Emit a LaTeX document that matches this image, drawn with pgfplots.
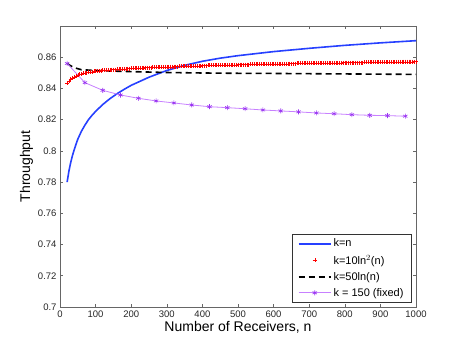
\documentclass[border=0pt]{standalone}
\usepackage{pgfplots}
\pgfplotsset{compat=1.18}
\usepackage{fontspec}
\setmainfont{Liberation Sans}
\definecolor{mblue}{rgb}{0.15,0.25,1}
\definecolor{plight}{rgb}{0.78,0.5,1}
\definecolor{pdark}{rgb}{0.6,0.2,0.95}
\definecolor{axgray}{rgb}{0.4,0.4,0.4}
\begin{document}
\begin{tikzpicture}[x=1pt,y=1pt]
\useasboundingbox (0,0) rectangle (460,346);
\begin{axis}[
  at={(60pt,39pt)}, anchor=south west,
  scale only axis, width=356pt, height=281pt,
  xmin=0, xmax=1000, ymin=0.7, ymax=0.88,
  xtick={0,100,...,1000},
  ytick={0.7,0.72,0.74,0.76,0.78,0.8,0.82,0.84,0.86},
  yticklabels={0.7,0.72,0.74,0.76,0.78,0.8,0.82,0.84,0.86},
  xticklabels={0,100,200,300,400,500,600,700,800,900,1000},
  tick align=inside,
  major tick length=3pt,
  tick style={axgray, line width=0.6pt},
  axis line style={axgray, line width=0.8pt},
  ticklabel style={font=\fontsize{9.5}{11}\selectfont, text=black!85},
  /pgf/number format/assume math mode=true,
  xlabel={Number of Receivers, n},
  ylabel={Throughput},
  label style={font=\fontsize{14}{16}\selectfont},
  xlabel style={yshift=3pt},
  ylabel style={yshift=-2pt},
  legend style={font=\fontsize{11}{13}\selectfont, draw=black!80, inner xsep=6pt, inner ysep=2.5pt, row sep=2.5pt, at={(0.988,0.017)}, anchor=south east},
  legend cell align=left,
  legend image code/.code={\draw[mark repeat=2,mark phase=2,#1] plot coordinates {(0pt,0pt) (16pt,0pt) (32pt,0pt)};},
]
\addlegendimage{draw=mblue, line width=1.6pt}
\addlegendentry{k=n}
\addplot[draw=mblue, line width=1.6pt, line join=round, forget plot] coordinates {
(20,0.780) (25,0.787) (30,0.7925) (35,0.797) (40,0.8008) (45,0.8043) (50,0.8075) (60,0.8125) (70,0.8165) (80,0.820) (90,0.8228) (100,0.8253) (120,0.8297) (140,0.8334) (160,0.8366) (180,0.8394) (200,0.842) (250,0.8472) (300,0.8515) (350,0.8548) (400,0.8574) (450,0.8594) (500,0.861) (600,0.8636) (700,0.8657) (800,0.8676) (900,0.8692) (1000,0.8706)
};
\addplot[red, only marks, mark=+, mark size=2pt, mark options={line width=0.45pt}] coordinates {
(20,.8433) (25,.8446) (30,.8458) (35,.8467) (40,.8474) (45,.8481) (50,.8486) (55,.8490) (60,.8494) (65,.8497) (70,.8500) (75,.8502) (80,.8504) (85,.8506) (90,.8507) (95,.8509) (100,.8510)
(105,.8512) (110,.8513) (115,.8514) (120,.8515) (125,.8516) (130,.8517) (135,.8518) (140,.8519) (145,.8520) (150,.8521) (155,.8521) (160,.8522) (165,.8523) (170,.8524) (175,.8524) (180,.8525) (185,.8526) (190,.8527) (195,.8527) (200,.8528)
(205,.8528) (210,.8529) (215,.8530) (220,.8530) (225,.8531) (230,.8531) (235,.8532) (240,.8533) (245,.8533) (250,.8534) (255,.8534) (260,.8535) (265,.8535) (270,.8535) (275,.8536) (280,.8536) (285,.8537) (290,.8537) (295,.8538) (300,.8538)
(305,.8538) (310,.8539) (315,.8539) (320,.8540) (325,.8540) (330,.8540) (335,.8541) (340,.8541) (345,.8542) (350,.8542) (355,.8542) (360,.8543) (365,.8543) (370,.8543) (375,.8544) (380,.8544) (385,.8545) (390,.8545) (395,.8545) (400,.8546)
(405,.8546) (410,.8546) (415,.8547) (420,.8547) (425,.8547) (430,.8547) (435,.8548) (440,.8548) (445,.8548) (450,.8549) (455,.8549) (460,.8549) (465,.8550) (470,.8550) (475,.8550) (480,.8550) (485,.8551) (490,.8551) (495,.8551) (500,.8552)
(505,.8552) (510,.8552) (515,.8553) (520,.8553) (525,.8553) (530,.8553) (535,.8554) (540,.8554) (545,.8554) (550,.8554) (555,.8555) (560,.8555) (565,.8555) (570,.8555) (575,.8556) (580,.8556) (585,.8556) (590,.8556) (595,.8557) (600,.8557)
(605,.8557) (610,.8557) (615,.8558) (620,.8558) (625,.8558) (630,.8558) (635,.8558) (640,.8558) (645,.8559) (650,.8559) (655,.8559) (660,.8559) (665,.8560) (670,.8560) (675,.8560) (680,.8560) (685,.8560) (690,.8560) (695,.8561) (700,.8561)
(705,.8561) (710,.8561) (715,.8562) (720,.8562) (725,.8562) (730,.8562) (735,.8562) (740,.8562) (745,.8563) (750,.8563) (755,.8563) (760,.8563) (765,.8564) (770,.8564) (775,.8564) (780,.8564) (785,.8564) (790,.8564) (795,.8565) (800,.8565)
(805,.8565) (810,.8565) (815,.8565) (820,.8565) (825,.8566) (830,.8566) (835,.8566) (840,.8566) (845,.8566) (850,.8566) (855,.8567) (860,.8567) (865,.8567) (870,.8567) (875,.8567) (880,.8567) (885,.8568) (890,.8568) (895,.8568) (900,.8568)
(905,.8568) (910,.8568) (915,.8569) (920,.8569) (925,.8569) (930,.8569) (935,.8569) (940,.8569) (945,.8570) (950,.8570) (955,.8570) (960,.8570) (965,.8571) (970,.8571) (975,.8571) (980,.8571) (985,.8571) (990,.8571) (995,.8572) (1000,.8572)
};
\addlegendentry{k=10ln$^2$(n)}
\addplot[black, line width=1.6pt, dash pattern=on 6pt off 4pt] coordinates {
(20,0.856) (30,0.8545) (40,0.8533) (60,0.852) (100,0.8515) (150,0.8511) (200,0.8508) (300,0.8502) (400,0.8499) (500,0.8497) (600,0.8496) (800,0.8493) (1000,0.849)
};
\addlegendentry{k=50ln(n)}
\addplot[plight, line width=0.8pt, mark=asterisk, mark size=2.5pt, mark options={pdark, line width=0.6pt}] coordinates {
(20,0.856) (70,0.8437) (120,0.8388) (170,0.8358) (220,0.8337) (270,0.832) (320,0.8307) (370,0.8294) (420,0.8283) (470,0.8277)
(520,0.827) (570,0.8262) (620,0.8256) (670,0.825) (720,0.8243) (770,0.8238) (820,0.8232) (870,0.8228) (920,0.8226) (970,0.8222)
};
\addlegendentry{k = 150 (fixed)}
\end{axis}
\end{tikzpicture}
\end{document}
